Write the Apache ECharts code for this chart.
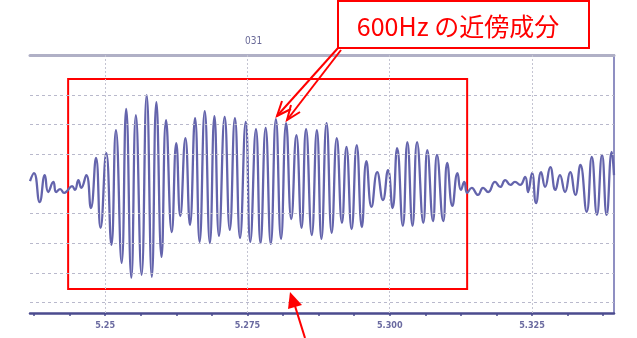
<!DOCTYPE html>
<html><head><meta charset="utf-8">
<script src="https://cdn.jsdelivr.net/npm/echarts@6/dist/echarts.min.js"></script>
<style>html,body{margin:0;padding:0;background:#fff}#c{width:637px;height:338px}</style>
</head><body><div id="c"></div>
<script>
// time in ms (axis labels shown in seconds)
const timeMs = [
  5236.8, 5237.5, 5238.5, 5239.4, 5240.0, 5240.9, 5241.4, 5242.1, 5242.8, 5243.3, 5244.2, 5244.7, 5245.3, 5245.8, 5246.7, 5247.5,
  5248.4, 5249.2, 5250.2, 5251.1, 5251.9, 5252.9, 5253.7, 5254.6, 5255.4, 5256.4, 5257.3, 5258.2, 5259.0, 5259.9, 5260.7, 5261.7,
  5262.5, 5263.2, 5264.1, 5264.9, 5265.8, 5266.6, 5267.5, 5268.4, 5269.2, 5270.0, 5271.0, 5271.9, 5272.8, 5273.7, 5274.7, 5275.5,
  5276.5, 5277.3, 5278.2, 5279.1, 5280.0, 5280.9, 5281.8, 5282.7, 5283.6, 5284.5, 5285.3, 5286.3, 5287.2, 5288.0, 5288.9, 5289.8,
  5290.7, 5291.6, 5292.4, 5293.3, 5294.2, 5295.1, 5295.9, 5296.8, 5297.8, 5298.8, 5299.7, 5300.5, 5301.3, 5302.3, 5303.1, 5304.0,
  5304.8, 5305.9, 5306.6, 5307.6, 5308.3, 5309.4, 5310.1, 5311.0, 5311.9, 5312.5, 5313.1, 5313.6,
  5314.4, 5315.5, 5316.4, 5317.3, 5318.5, 5319.4, 5320.3, 5321.2, 5322.0, 5322.9, 5323.8, 5324.3, 5325.0, 5325.7, 5326.6,
  5327.3, 5328.2, 5329.1, 5329.9, 5330.8, 5331.7, 5332.6, 5333.5, 5334.6, 5335.5, 5336.4, 5337.3, 5338.1, 5339.0, 5339.4
];
const amplitude = [
  0.10, 0.37, -0.61, 0.30, -0.27, 0.07, -0.27, -0.17, -0.30, -0.24, -0.07, -0.20, 0.13, -0.13, 0.30, -0.81,
  0.88, -1.48, 1.04, -2.05, 1.82, -2.66, 2.53, -3.16, 2.32, -3.06, 3.00, -3.13, 2.76, -2.46, 2.15, -1.62,
  1.38, -1.08, 1.55, -1.38, 2.22, -1.95, 2.46, -1.99, 2.29, -1.75, 2.26, -1.55, 2.22, -1.82, 2.09, -1.95,
  1.85, -1.99, 1.89, -2.02, 2.19, -1.85, 2.05, -1.18, 1.65, -1.48, 1.85, -1.72, 1.82, -1.85, 2.05, -1.65,
  1.55, -1.31, 1.25, -1.52, 1.31, -1.45, 0.77, -0.77, 0.40, -0.54, 0.47, -0.81, 1.21, -1.41, 1.41, -1.41,
  1.41, -1.31, 1.14, -1.25, 0.98, -1.25, 0.71, -0.74, 0.37, -0.20, 0.07, -0.30,
  -0.13, -0.37, -0.13, -0.27, 0.07, -0.10, 0.13, -0.03, 0.07, -0.03, 0.24, -0.27, 0.37, -0.64, 0.40,
  -0.10, 0.57, -0.20, 0.30, -0.27, 0.40, -0.37, 0.64, -0.94, 0.91, -1.04, 0.98, -1.04, 1.08, 0.30
];
const majorTicks = [5250, 5275, 5300, 5325];
const tickLabels = ['5.25', '5.275', '5.300', '5.325'];
const minorTicks = [5237.5, 5243.75, 5250, 5256.25, 5262.5, 5268.75, 5275, 5281.25, 5287.5, 5293.75, 5300, 5306.25, 5312.5, 5318.75, 5325, 5331.25, 5337.5];
const gridLevels = [-4, -3, -2, -1, 1, 2, 3];
const boxTime = [5243.5, 5313.6];
const boxAmp = [3.54, -3.54];
const chartTitle = '031';
const calloutText = '600Hz の近傍成分';

const chart = echarts.init(document.getElementById('c'), null, {renderer: 'canvas'});
const red = '#ff0000';
chart.setOption({
  animation: false,
  backgroundColor: '#ffffff',
  grid: {left: 30, right: 23, top: 55, bottom: 25},
  xAxis: [{
    type: 'value', min: 5236.8, max: 5339.4, position: 'bottom',
    axisLine: {show: true, onZero: false, lineStyle: {color: '#4b4b8e', width: 2.5}},
    axisTick: {show: true, customValues: minorTicks, length: 3, lineStyle: {color: '#4b4b8e', width: 1.5}},
    axisLabel: {show: true, customValues: majorTicks, margin: 8, color: '#6a6aa0', fontSize: 9, fontWeight: 'bold', fontFamily: 'DejaVu Sans Condensed, DejaVu Sans',
      formatter: v => { const i = majorTicks.indexOf(v); return i >= 0 ? tickLabels[i] : ''; }},
    splitLine: {show: false}
  }, {
    type: 'value', min: 5236.8, max: 5339.4, position: 'top',
    axisLine: {show: true, onZero: false, lineStyle: {color: '#b0b0c6', width: 3}},
    axisTick: {show: false}, axisLabel: {show: false}, splitLine: {show: false}
  }],
  yAxis: {
    type: 'value', min: -4.35, max: 4.35, position: 'right',
    axisLine: {show: true, onZero: false, lineStyle: {color: '#8f8fc2', width: 2}},
    axisTick: {show: false}, axisLabel: {show: false}, splitLine: {show: false}
  },
  series: [{
    type: 'line',
    data: timeMs.map((t, i) => [t, amplitude[i]]),
    smooth: 0.5,
    symbol: 'none',
    lineStyle: {color: '#6464ac', width: 2.3},
    z: 3,
    markLine: {
      silent: true, symbol: 'none', label: {show: false}, animation: false,
      data: [
        ...gridLevels.map(v => ({yAxis: v, lineStyle: {color: '#b9b9cc', width: 1, type: [3, 3]}})),
        ...majorTicks.map(v => ({xAxis: v, lineStyle: {color: '#c4c4d2', width: 1, type: [2, 2]}}))
      ]
    },
    markArea: {
      silent: true,
      itemStyle: {color: 'rgba(0,0,0,0)', borderColor: red, borderWidth: 2},
      data: [[{xAxis: boxTime[0], yAxis: boxAmp[0]}, {xAxis: boxTime[1], yAxis: boxAmp[1]}]]
    }
  }],
  graphic: [
    {type: 'text', left: 245, top: 36, z: 10, style: {text: chartTitle, fill: '#6a6a98', font: '10px "DejaVu Sans Condensed"', textAlign: 'center'}},
    {type: 'rect', z: 20, shape: {x: 338, y: 1, width: 251, height: 47}, style: {fill: '#ffffff', stroke: red, lineWidth: 2}},
    {type: 'text', z: 21, x: 458, y: 26, style: {text: calloutText, fill: red, font: '25px "Noto Sans CJK JP"', align: 'center', verticalAlign: 'middle'}},
    {type: 'polyline', z: 20, shape: {points: [[338, 48], [277, 116]]}, style: {stroke: red, lineWidth: 2, fill: null}},
    {type: 'polyline', z: 20, shape: {points: [[282, 101], [277, 116], [291, 109]]}, style: {stroke: red, lineWidth: 2, fill: null}},
    {type: 'polyline', z: 20, shape: {points: [[341, 50], [287, 120]]}, style: {stroke: red, lineWidth: 2, fill: null}},
    {type: 'polyline', z: 20, shape: {points: [[291, 105], [287, 120], [300, 112]]}, style: {stroke: red, lineWidth: 2, fill: null}},
    {type: 'polyline', z: 20, shape: {points: [[305, 338], [295, 306]]}, style: {stroke: red, lineWidth: 2, fill: null}},
    {type: 'polygon', z: 20, shape: {points: [[290, 292], [302, 305], [288, 309]]}, style: {fill: red}}
  ]
});
</script>
</body></html>
